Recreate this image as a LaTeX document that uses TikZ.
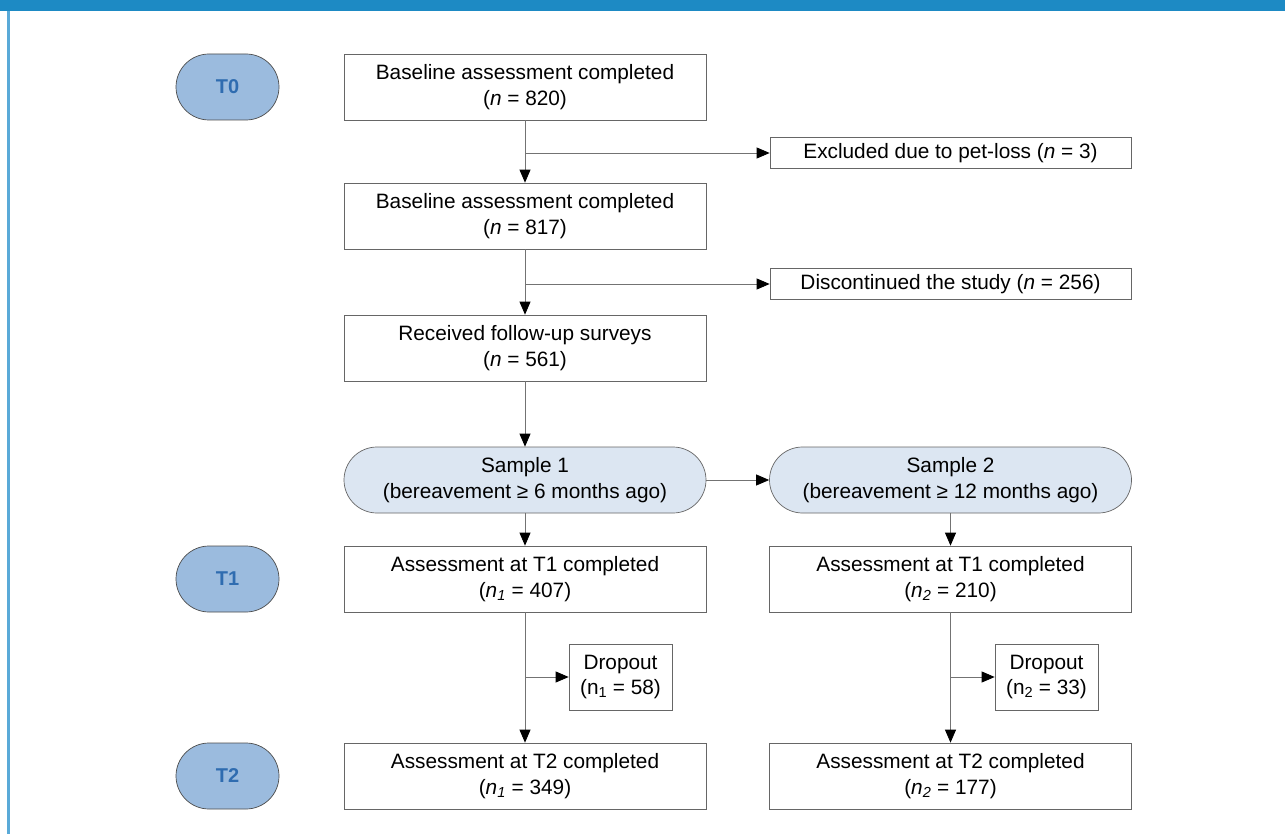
\documentclass[tikz,border=0pt]{standalone}
\usepackage{fontspec}
\setmainfont{Liberation Sans}
\usetikzlibrary{arrows.meta,shapes.misc}
\begin{document}
\begin{tikzpicture}[x=1pt,y=-1pt,
  every node/.style={font=\fontsize{20.8}{25.5}\selectfont, align=center, inner sep=0pt},
  box/.style={draw=black!60, line width=0.7pt, fill=white, minimum width=362pt, minimum height=66pt},
  sidebox/.style={draw=black!60, line width=0.7pt, fill=white, minimum width=361pt, minimum height=31pt},
  dropbox/.style={draw=black!60, line width=0.7pt, fill=white, minimum width=103pt, minimum height=66pt},
  timepill/.style={draw=black!70, line width=0.7pt, fill=pillblue, rounded rectangle, minimum width=103pt, minimum height=66pt, text=tblue, font=\fontsize{20}{24}\selectfont\bfseries},
  samplepill/.style={draw=black!60, line width=0.7pt, fill=samplefill, rounded rectangle, minimum width=362pt, minimum height=66pt},
  conn/.style={draw=black!55, line width=0.8pt, -{Triangle[length=13pt,width=11pt,fill=black,color=black]}},
  plain/.style={draw=black!55, line width=0.8pt}
]
\definecolor{pillblue}{HTML}{9BBBDE}
\definecolor{tblue}{HTML}{2F6CB0}
\definecolor{samplefill}{HTML}{DCE6F2}
\definecolor{framebar}{HTML}{1D8AC4}
\definecolor{frameside}{HTML}{5AAAD8}
\useasboundingbox (0,0) rectangle (1285,834);
\fill[white] (0,0) rectangle (1285,834);
\fill[framebar] (0,0) rectangle (1285,11);
\fill[frameside] (7,11) rectangle (10,834);

% time pills
\node[timepill] (t0) at (227.5,87) {T0};
\node[timepill] (t1) at (227.5,579) {T1};
\node[timepill] (t2) at (227.5,776) {T2};

% main column
\node[box] (b1) at (525,87) {Baseline assessment completed\\(\textit{n} = 820)};
\node[box] (b2) at (525,216) {Baseline assessment completed\\(\textit{n} = 817)};
\node[box] (b3) at (525,348) {Received follow-up surveys\\(\textit{n} = 561)};
\node[sidebox] (ex) at (950.5,153) {Excluded due to pet-loss (\textit{n} = 3)};
\node[sidebox] (dc) at (950.5,284) {Discontinued the study (\textit{n} = 256)};
\node[samplepill] (s1) at (525,480) {Sample 1\\(bereavement ≥ 6 months ago)};
\node[samplepill] (s2) at (950.5,480) {Sample 2\\(bereavement ≥ 12 months ago)};
\node[box] (l1) at (525,579) {Assessment at T1 completed\\(\textit{n}\textsubscript{\textit{1}} = 407)};
\node[box] (r1) at (950.5,579) {Assessment at T1 completed\\(\textit{n}\textsubscript{\textit{2}} = 210)};
\node[dropbox] (d1) at (620.5,677) {Dropout\\(n\textsubscript{1} = 58)};
\node[dropbox] (d2) at (1046.5,677) {Dropout\\(n\textsubscript{2} = 33)};
\node[box] (l2) at (525,776) {Assessment at T2 completed\\(\textit{n}\textsubscript{\textit{1}} = 349)};
\node[box] (r2) at (950.5,776) {Assessment at T2 completed\\(\textit{n}\textsubscript{\textit{2}} = 177)};

\coordinate (j1) at (b1.south |- ex.west);
\coordinate (j2) at (b2.south |- dc.west);
\coordinate (j3) at (l1.south |- d1.west);
\coordinate (j4) at (r1.south |- d2.west);

\path[conn] (b1.south) -- (b2.north);
\path[conn] (j1) -- (ex.west);
\path[conn] (b2.south) -- (b3.north);
\path[conn] (j2) -- (dc.west);
\path[conn] (b3.south) -- (s1.north);
\path[conn] (s1.east) -- (s2.west);
\path[conn] (s1.south) -- (l1.north);
\path[conn] (s2.south) -- (r1.north);
\path[conn] (l1.south) -- (l2.north);
\path[conn] (r1.south) -- (r2.north);
\path[conn] (j3) -- (d1.west);
\path[conn] (j4) -- (d2.west);
\end{tikzpicture}
\end{document}
